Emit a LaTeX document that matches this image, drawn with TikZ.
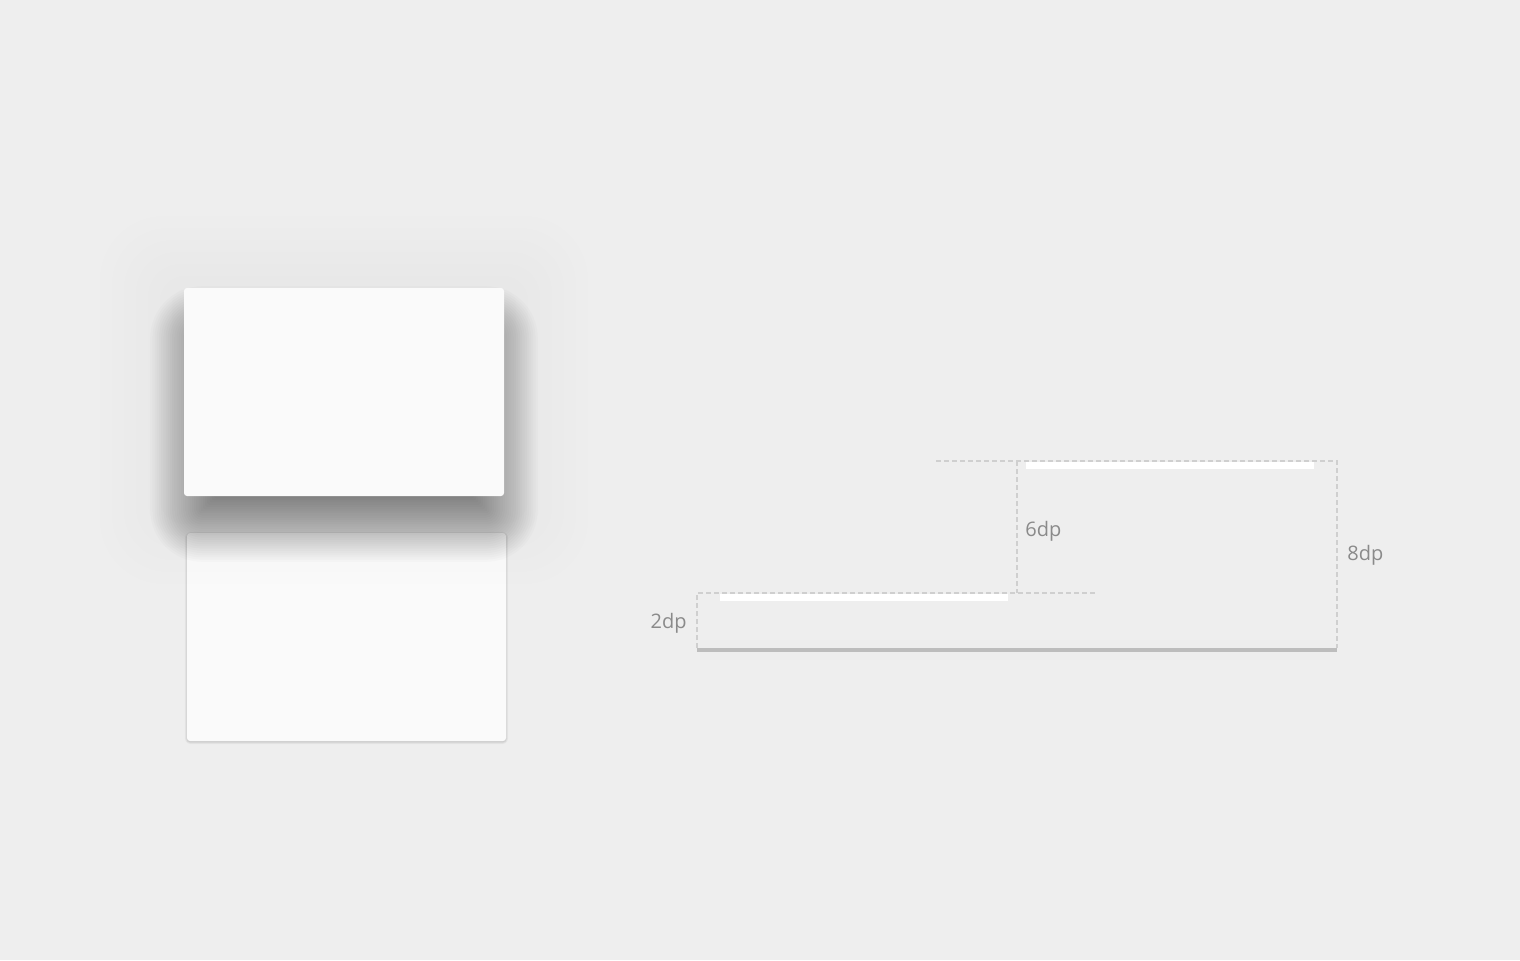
\documentclass[tikz,border=0pt]{standalone}
\usepackage{fontspec}
\setmainfont{Open Sans}

\definecolor{bg}{HTML}{EEEEEE}
\definecolor{cardfill}{HTML}{FAFAFA}
\definecolor{guidegray}{HTML}{CFCFCF}
\definecolor{basegray}{HTML}{BDBDBD}
\definecolor{labelgray}{HTML}{8A8A8A}

\tikzset{
  card/.style={fill=cardfill, rounded corners=1.5pt},
  guide/.style={draw=guidegray, line width=1pt, dash pattern=on 2.5pt off 1.5pt},
  whitebar/.style={fill=white},
  dplabel/.style={text=labelgray, font=\fontsize{10}{12}\selectfont, inner sep=0pt}
}

\begin{document}
\begin{tikzpicture}[x=0.5pt, y=-0.5pt]
    % Background
    \fill[bg] (0,0) rectangle (1520,960);

    % Lower card, resting
    \foreach \k in {0,...,3}
        \fill[black, fill opacity=0.035, rounded corners={(1.5+\k*0.5)*1pt}]
            ({187-\k*0.7},{534-\k*0.7}) rectangle ({506+\k*0.7},{742+\k*0.7});
    \fill[card] (187,533) rectangle (506,741);

    % Raised card: ambient shadow
    \foreach \k in {0,...,7}
        \fill[black, fill opacity=0.004, rounded corners={(4+\k*4)*1pt}]
            ({184-\k*12},{300-\k*12}) rectangle ({504+\k*12},{500+\k*12});
    % Raised card: key shadow
    \foreach \k in {0,...,29}
        \fill[black, fill opacity=0.017, rounded corners={max(1,\k*1.1-6)*1pt}]
            ({214-\k*2.2},{350-\k*2.2}) rectangle ({474+\k*2.2},{498+\k*2.2});
    \fill[card] (184,288) rectangle (504,496);

    % Elevation guides
    \draw[guide] (936,461) -- (1337,461) -- (1337,648);
    \draw[guide] (1017,461) -- (1017,593);
    \draw[guide] (697,648) -- (697,593) -- (1098,593);
    \fill[whitebar] (1026,462) rectangle (1314,469);
    \fill[whitebar] (720,594) rectangle (1008,601);
    \draw[basegray, line width=1.6pt] (697,650) -- (1337,650);

    % Labels
    \node[dplabel, anchor=west] (six) at (1025,531) {6dp};
    \node[dplabel, anchor=west] (eight) at (1347,555) {8dp};
    \node[dplabel, anchor=east] (two) at (687,623) {2dp};

\end{tikzpicture}
\end{document}
